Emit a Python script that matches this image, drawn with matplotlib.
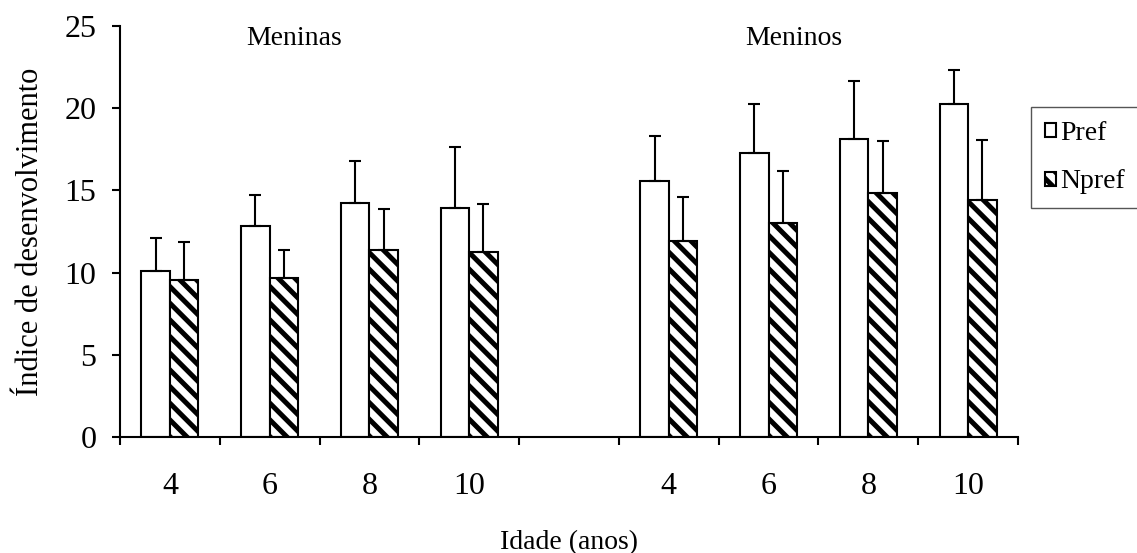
import matplotlib
matplotlib.use("Agg")
from matplotlib import pyplot as plt
import numpy as np

# categories: 4 ages for girls, empty gap, 4 ages for boys
ages = ["4", "6", "8", "10", "", "4", "6", "8", "10"]
groups = ["Meninas", "Meninos"]

# values (NaN = gap slot)
pref = [10.1, 12.85, 14.25, 13.9, np.nan, 15.6, 17.25, 18.1, 20.25]
pref_err = [2.0, 1.85, 2.55, 3.75, np.nan, 2.7, 3.0, 3.55, 2.05]
npref = [9.55, 9.7, 11.35, 11.25, np.nan, 11.95, 13.0, 14.85, 14.4]
npref_err = [2.3, 1.65, 2.5, 2.9, np.nan, 2.65, 3.2, 3.15, 3.65]

plt.rcParams["font.family"] = ["Liberation Serif", "DejaVu Serif"]
plt.rcParams["hatch.linewidth"] = 3.6
plt.rcParams["font.size"] = 20

fig = plt.figure(figsize=(11.37, 5.53), dpi=100)
ax = fig.add_axes([120 / 1137, 1 - 437 / 553, 898 / 1137, 411 / 553])

centers = np.arange(len(ages)) + 0.5
w = 0.285
err_kw = dict(ecolor="black", elinewidth=1.5, capsize=4.3, capthick=1.5)

ax.bar(centers - w / 2, pref, w, color="white", edgecolor="black", linewidth=1.5,
       yerr=[np.zeros(len(pref)), pref_err], error_kw=err_kw, label="Pref", zorder=2)
ax.bar(centers + w / 2, npref, w, color="white", edgecolor="black", linewidth=1.5,
       hatch="\\\\", yerr=[np.zeros(len(npref)), npref_err], error_kw=err_kw,
       label="Npref", zorder=2)

ax.set_xlim(0, len(ages))
ax.set_ylim(0, 25)
ax.set_yticks([0, 5, 10, 15, 20, 25])

# major ticks at category boundaries, labels at centres
ax.set_xticks(np.arange(len(ages) + 1))
ax.set_xticklabels([])
ax.set_xticks(centers, minor=True)
ax.set_xticklabels(ages, minor=True)
ax.tick_params(axis="x", which="major", direction="out", length=6, width=1.5)
ax.tick_params(axis="x", which="minor", length=0, pad=25, labelsize=23)
ax.tick_params(axis="y", direction="out", length=6, width=1.5, pad=11, labelsize=23)

for s in ["top", "right"]:
    ax.spines[s].set_visible(False)
for s in ["left", "bottom"]:
    ax.spines[s].set_linewidth(1.5)

ax.set_ylabel("Índice de desenvolvimento", labelpad=14, fontsize=22)
ax.set_xlabel("Idade (anos)", labelpad=21)

ax.text(1.74, 23.85, groups[0], ha="center", va="baseline")
ax.text(6.75, 23.85, groups[1], ha="center", va="baseline")

leg = ax.legend(loc="upper left", bbox_to_anchor=(1031 / 1137, 1 - 107 / 553),
                bbox_transform=fig.transFigure, borderaxespad=0, fancybox=False,
                edgecolor="#555555", framealpha=1, handlelength=0.4, handleheight=0.4,
                handletextpad=0.15, labelspacing=0.85, borderpad=0.5)
leg.get_frame().set_linewidth(1.0)

fig.savefig("out.png", dpi=100)
